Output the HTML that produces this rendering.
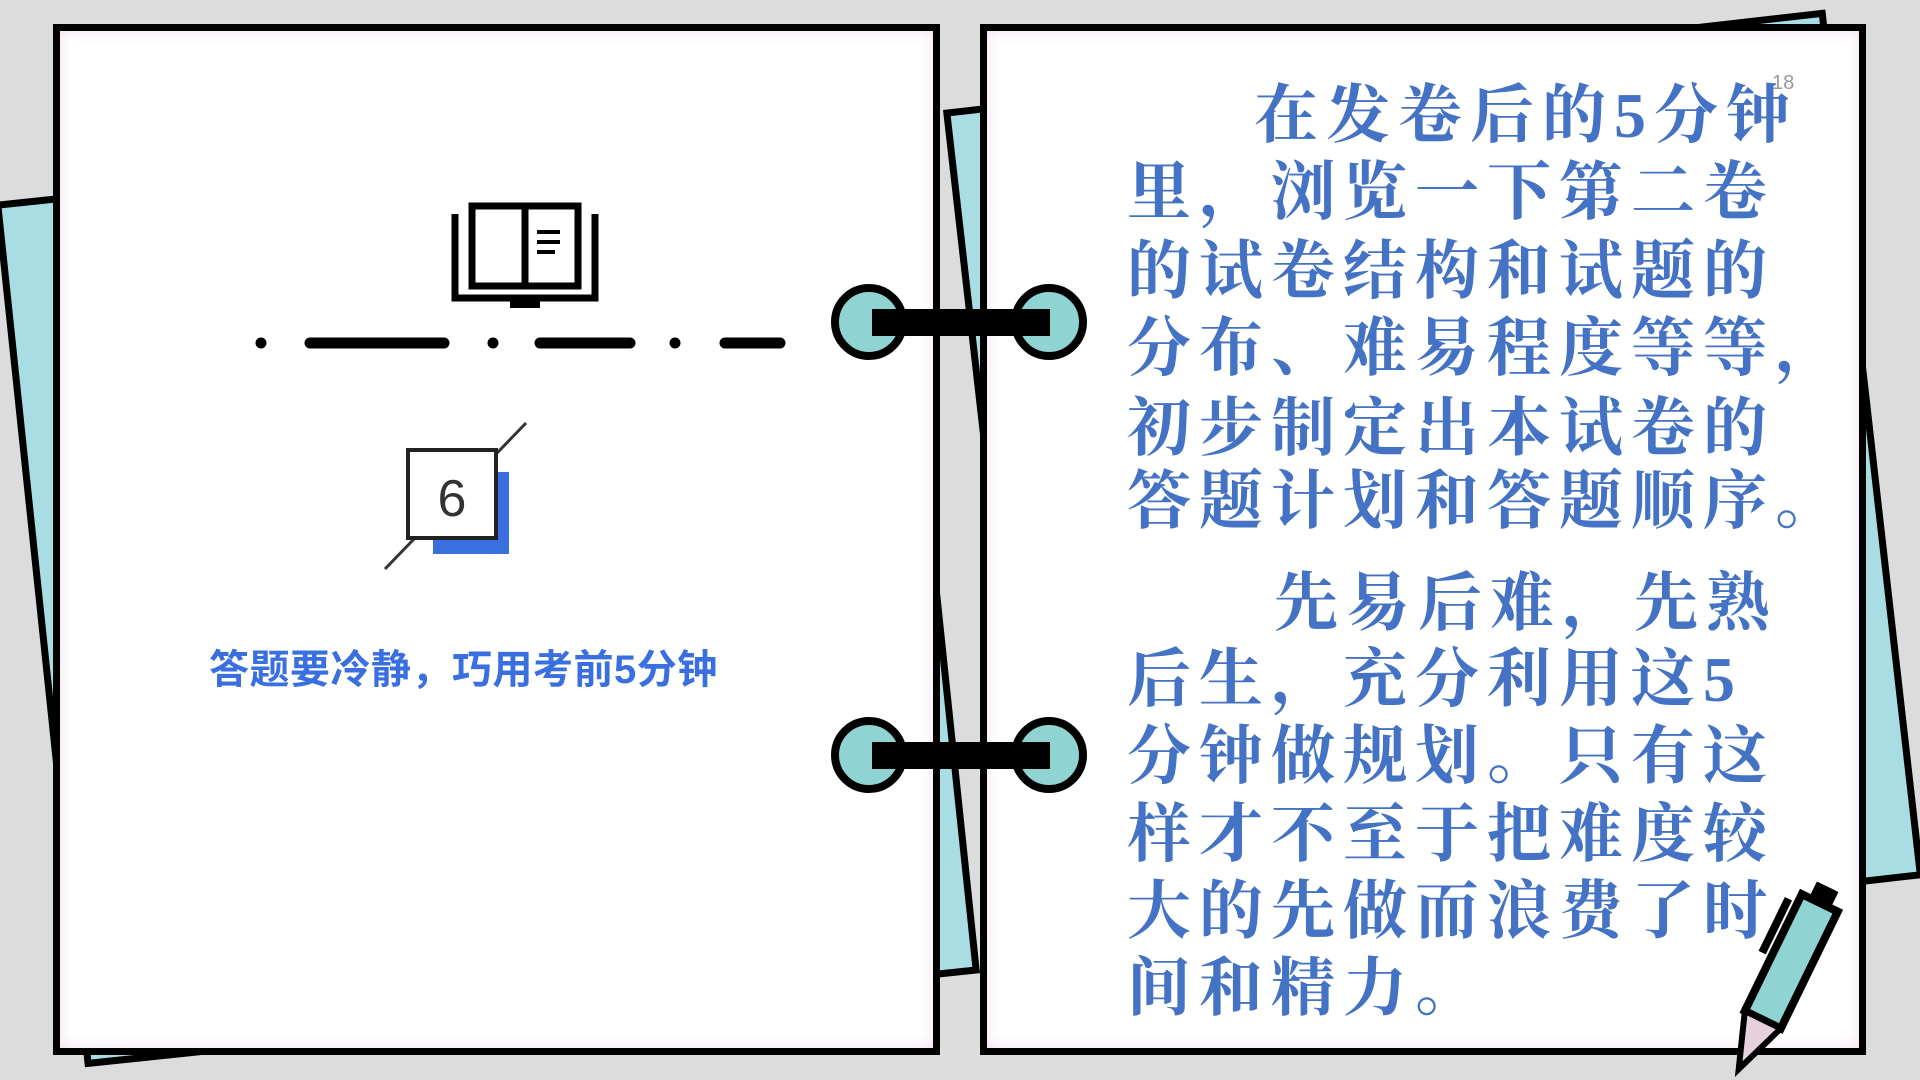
<!DOCTYPE html>
<html><head><meta charset="utf-8"><style>
body{margin:0;width:1920px;height:1080px;background:#dcdcdc;position:relative;overflow:hidden;font-family:"Liberation Sans","Noto Sans CJK SC",sans-serif}
.abs{position:absolute}
.page{position:absolute;background:#fff;border:7px solid #000;box-shadow:inset 0 0 14px #f3dff0;box-sizing:border-box}
.ln{position:absolute;left:1127px;font-family:"Liberation Serif","Noto Serif CJK SC",serif;font-weight:bold;color:#4472c4;font-size:64px;letter-spacing:8px;white-space:nowrap;line-height:1}
</style></head><body>
<div class="abs" style="left:-6px;top:202px;width:900px;height:870px;background:#a8dde3;border:7px solid #000;transform:rotate(-6deg);transform-origin:0 0;box-sizing:border-box"></div>
<div class="abs" style="left:943px;top:110px;width:888px;height:874px;background:#a8dde3;border:7px solid #000;transform:rotate(-6.5deg);transform-origin:0 0;box-sizing:border-box"></div>
<div class="page" style="left:53px;top:24px;width:887px;height:1031px"></div>
<div class="page" style="left:980px;top:24px;width:886px;height:1031px"></div>

<svg class="abs" style="left:0;top:0" width="1920" height="1080">
<g stroke="#000" stroke-width="8" fill="#8fd3d3">
<circle cx="869" cy="322" r="34"/><circle cx="1049" cy="322" r="34"/>
<circle cx="869" cy="755" r="34"/><circle cx="1049" cy="755" r="34"/>
</g>
<rect x="872" y="309" width="178" height="27" fill="#000"/>
<rect x="872" y="742" width="178" height="27" fill="#000"/>
<g fill="none" stroke="#000" stroke-width="7">
<rect x="472" y="206" width="106" height="80"/>
<line x1="525" y1="206" x2="525" y2="286"/>
<polyline points="455,214 455,298 595,298 595,214"/>
</g>
<rect x="510" y="298" width="30" height="10" fill="#000"/>
<g stroke="#000" stroke-width="4"><line x1="537" y1="232" x2="560" y2="232"/><line x1="537" y1="242" x2="560" y2="242"/><line x1="537" y1="252" x2="555" y2="252"/></g>
<g stroke="#000" stroke-width="11" stroke-linecap="round">
<line x1="261" y1="343" x2="261" y2="343"/><line x1="310" y1="343" x2="444" y2="343"/>
<line x1="493" y1="343" x2="493" y2="343"/><line x1="540" y1="343" x2="630" y2="343"/>
<line x1="675" y1="343" x2="675" y2="343"/><line x1="725" y1="343" x2="780" y2="343"/>
</g>
<rect x="433" y="472" width="76" height="82" fill="#3a6fe0"/>
<line x1="385" y1="569" x2="526" y2="423" stroke="#333" stroke-width="3"/>
<rect x="408" y="450" width="88" height="88" fill="#fff" stroke="#222" stroke-width="4"/>
<text x="452" y="516" font-size="52" text-anchor="middle" font-family="Liberation Sans" fill="#333">6</text>
<g transform="translate(1818,902) rotate(26)">
<rect x="-18" y="0" width="40" height="130" fill="#8fd3d3" stroke="#000" stroke-width="8"/>
<rect x="-10" y="-18" width="24" height="18" fill="#000"/>
<rect x="-32" y="10" width="8" height="60" fill="#000"/>
<polygon points="-18,130 22,130 2,185" fill="#e6d0dc" stroke="#000" stroke-width="6"/>
</g>
</svg>

<div class="abs" style="left:209px;top:637px;font-size:40px;font-weight:bold;color:#3a6fe0;white-space:nowrap;letter-spacing:0.5px">答题要冷静，巧用考前5分钟</div>
<div class="abs" style="left:1772px;top:72px;font-size:20px;color:#999">18</div>

<div class="ln" style="top:84px;left:1254px">在发卷后的5分钟</div>
<div class="ln" style="top:161px">里，浏览一下第二卷</div>
<div class="ln" style="top:240px">的试卷结构和试题的</div>
<div class="ln" style="top:317px">分布、难易程度等等，</div>
<div class="ln" style="top:397px">初步制定出本试卷的</div>
<div class="ln" style="top:470px">答题计划和答题顺序。</div>
<div class="ln" style="top:572px;left:1274px">先易后难，先熟</div>
<div class="ln" style="top:648px">后生，充分利用这5</div>
<div class="ln" style="top:725px">分钟做规划。只有这</div>
<div class="ln" style="top:803px">样才不至于把难度较</div>
<div class="ln" style="top:880px">大的先做而浪费了时</div>
<div class="ln" style="top:957px">间和精力。</div>
</body></html>
